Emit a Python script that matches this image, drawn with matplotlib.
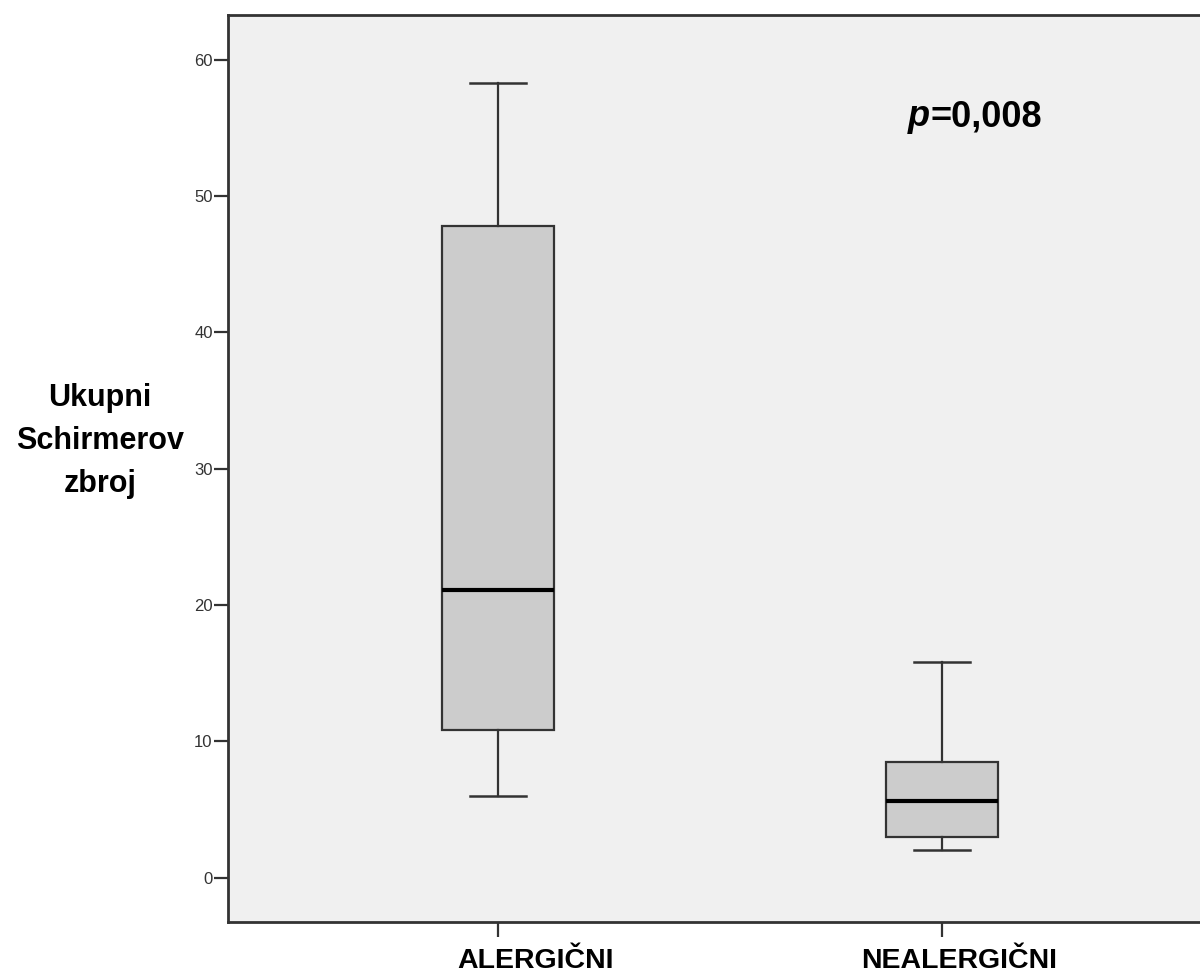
import matplotlib
matplotlib.use("Agg")
import matplotlib.pyplot as plt
import matplotlib.transforms as mtransforms

# box statistics
groups = ["ALERGIČNI", "NEALERGIČNI"]
whis_lo = [6.0, 2.0]
q1 = [10.8, 3.0]
medians = [21.1, 5.6]
q3 = [47.8, 8.5]
whis_hi = [58.3, 15.8]
yticks = [0, 10, 20, 30, 40, 50, 60]
p_text = "=0,008"

plt.rcParams['font.family'] = ['Liberation Sans', 'DejaVu Sans']

fig = plt.figure(figsize=(12, 9.74), dpi=100)
ax = fig.add_axes([228 / 1200, 52 / 974, 977 / 1200, 907.3 / 974])
ax.set_facecolor('#f0f0f0')

stats = []
for i in range(len(groups)):
    stats.append(dict(label=groups[i], whislo=whis_lo[i], q1=q1[i], med=medians[i],
                      q3=q3[i], whishi=whis_hi[i], fliers=[]))

ax.bxp(stats, positions=[1, 2], widths=0.2525, capwidths=0.126, patch_artist=True,
       showfliers=False,
       boxprops=dict(facecolor='#cccccc', edgecolor='#333333', linewidth=1.6),
       whiskerprops=dict(color='#333333', linewidth=1.6),
       capprops=dict(color='#333333', linewidth=1.8),
       medianprops=dict(color='black', linewidth=3))

ax.set_xlim(0.391, 2.594)
ax.set_ylim(-3.25, 63.3)
ax.set_yticks(yticks)
ax.set_yticklabels([str(v) for v in yticks], family=['Liberation Sans Narrow', 'Liberation Sans'],
                   fontsize=12, color='#333333')
ax.tick_params(axis='y', length=10, width=1.6, color='#333333', pad=1)
ax.tick_params(axis='x', length=11, width=1.6, color='#333333', pad=8)

ax.set_xticks([1, 2])
ax.set_xticklabels(groups, fontsize=20.5, fontweight='bold', ha='right')
offset = mtransforms.ScaledTranslation(1.16, 0, fig.dpi_scale_trans)
for lab in ax.get_xticklabels():
    lab.set_transform(lab.get_transform() + offset)

for side in ['left', 'bottom', 'top', 'right']:
    ax.spines[side].set_color('#333333')
    ax.spines[side].set_linewidth(2)

fig.text(100 / 1200, 1 - 441 / 974, "Ukupni\nSchirmerov\nzbroj", ha='center', va='center',
         fontsize=22, fontweight='bold', linespacing=1.55)

pt = fig.text(908 / 1200, 1 - 117 / 974, "p", ha='left', va='center', fontsize=26,
              fontweight='bold', style='italic')
ax.annotate(p_text, xy=(1, 0), xycoords=pt, ha='left', va='bottom', fontsize=26,
            fontweight='bold')

fig.savefig('out.png', dpi=100, facecolor='white')
